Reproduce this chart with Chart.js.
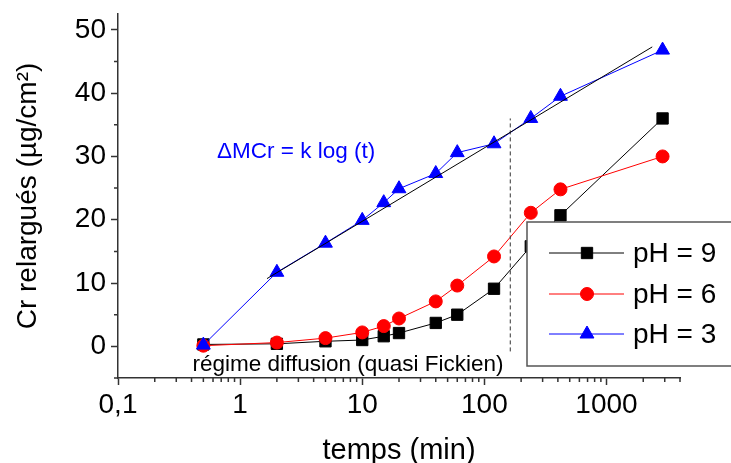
<!DOCTYPE html>
<html>
<head>
<meta charset="utf-8">
<script src="https://cdn.jsdelivr.net/npm/chart.js@4.4.0/dist/chart.umd.min.js"></script>
<style>
  html, body { margin: 0; padding: 0; background: #fff; }
  #wrap { width: 731px; height: 463px; }
</style>
</head>
<body>
<div id="wrap"><canvas id="chart" width="731" height="463"></canvas></div>
<script>
// ------------------------- Data -------------------------
const times = [0.5, 2, 5, 10, 15, 20, 40, 60, 120, 240, 420, 2880];
const ph9 = [0.3, 0.4, 0.8, 1.0, 1.6, 2.1, 3.7, 5.0, 9.1, 15.8, 20.7, 36.0];
const ph6 = [0.1, 0.6, 1.3, 2.2, 3.2, 4.4, 7.1, 9.6, 14.2, 21.1, 24.8, 30.0];
const ph3 = [0.2, 11.7, 16.3, 19.9, 22.7, 24.9, 27.3, 30.6, 32.0, 36.0, 39.5, 46.8];

const fitTimes = [1.66, 2370];
const fitValues = [10.7, 47.3];
const limitTimes = [163, 163];
const limitValues = [-0.8, 36];

const xTicks = [0.1, 1, 10, 100, 1000];
const xTickLabels = ['0,1', '1', '10', '100', '1000'];
const yTicks = [0, 10, 20, 30, 40, 50];
const yMinor = [-5, 5, 15, 25, 35, 45];
const xMinor = [];
[0.1, 1, 10, 100, 1000].forEach(d => {
  for (let k = 2; k <= 9; k++) if (d * k <= 4000) xMinor.push(d * k);
});

const FONT = "'Liberation Sans', Arial, sans-serif";
const AXIS = '#333';

function pts(xs, ys) {
  return xs.map((x, i) => ({ x: x, y: ys[i] }));
}

// ------------------------- Plugins -------------------------
const minorTicks = {
  id: 'minorTicks',
  afterDraw(chart) {
    const { ctx, scales: { x, y } } = chart;
    ctx.save();
    ctx.strokeStyle = AXIS;
    ctx.lineWidth = 1.5;
    ctx.beginPath();
    xMinor.forEach(v => {
      const px = x.getPixelForValue(v);
      ctx.moveTo(px, x.top);
      ctx.lineTo(px, x.top + 4);
    });
    yMinor.forEach(v => {
      const py = y.getPixelForValue(v);
      ctx.moveTo(y.right, py);
      ctx.lineTo(y.right - 4, py);
    });
    ctx.stroke();
    ctx.restore();
  }
};

const notes = {
  id: 'notes',
  afterDraw(chart) {
    const { ctx } = chart;
    ctx.save();
    ctx.textBaseline = 'alphabetic';
    ctx.fillStyle = '#0000ff';
    ctx.font = `22.5px ${FONT}`;
    ctx.textAlign = 'left';
    ctx.fillText('\u0394MCr = k log (t)', 217, 158);
    ctx.fillStyle = '#000';
    ctx.font = `22.5px ${FONT}`;
    ctx.textAlign = 'center';
    ctx.fillText('régime diffusion (quasi Fickien)', 348, 371);
    ctx.restore();
  }
};

const boxLegend = {
  id: 'boxLegend',
  afterDraw(chart) {
    const { ctx } = chart;
    ctx.save();
    ctx.fillStyle = '#fff';
    ctx.strokeStyle = '#555';
    ctx.lineWidth = 1.5;
    ctx.fillRect(527, 222, 220, 144);
    ctx.strokeRect(527, 222, 220, 144);
    const rows = [253, 294, 334];
    [0, 1, 2].forEach((di, i) => {
      const ds = chart.data.datasets[di];
      const yy = rows[i];
      ctx.strokeStyle = ds.borderColor;
      ctx.lineWidth = 1;
      ctx.beginPath();
      ctx.moveTo(549, yy);
      ctx.lineTo(624, yy);
      ctx.stroke();
      ctx.fillStyle = ds.backgroundColor;
      Chart.helpers.drawPoint(ctx, {
        pointStyle: ds.pointStyle, radius: ds.pointRadius, rotation: 0, borderWidth: 1
      }, 587, yy);
      ctx.fillStyle = '#000';
      ctx.font = `28px ${FONT}`;
      ctx.textAlign = 'left';
      ctx.textBaseline = 'middle';
      ctx.fillText(ds.label, 633, yy + 1);
    });
    ctx.restore();
  }
};

// ------------------------- Chart -------------------------
new Chart(document.getElementById('chart'), {
  type: 'line',
  data: {
    datasets: [
      {
        label: 'pH = 9', data: pts(times, ph9), order: 3,
        borderColor: '#000000', backgroundColor: '#000000', borderWidth: 1,
        pointStyle: 'rect', pointRadius: 8, pointBorderWidth: 1
      },
      {
        label: 'pH = 6', data: pts(times, ph6), order: 2,
        borderColor: '#ff0000', backgroundColor: '#ff0000', borderWidth: 1,
        pointStyle: 'circle', pointRadius: 6.5, pointBorderWidth: 1
      },
      {
        label: 'pH = 3', data: pts(times, ph3), order: 1,
        borderColor: '#0000ff', backgroundColor: '#0000ff', borderWidth: 1,
        pointStyle: 'triangle', pointRadius: 8, pointBorderWidth: 1
      },
      {
        label: 'fit', data: pts(fitTimes, fitValues), order: 0,
        borderColor: '#000000', borderWidth: 1, pointRadius: 0
      },
      {
        label: 'limit', data: pts(limitTimes, limitValues), order: 0,
        borderColor: '#333333', borderWidth: 1, borderDash: [4, 3], pointRadius: 0
      }
    ]
  },
  options: {
    responsive: false,
    animation: false,
    layout: { padding: { left: 0, top: 14, right: 51, bottom: 0 } },
    plugins: { legend: { display: false }, tooltip: { enabled: false } },
    scales: {
      x: {
        type: 'logarithmic', min: 0.1, max: 4000,
        afterBuildTicks: s => { s.ticks = xTicks.map(v => ({ value: v })); },
        afterFit: s => { s.height = 85; s.paddingLeft = 0; s.paddingRight = 0; },
        ticks: {
          autoSkip: false, maxRotation: 0, padding: 3, color: '#000',
          font: { family: FONT, size: 28 },
          callback: (v, i) => xTickLabels[i]
        },
        grid: { display: true, drawOnChartArea: false, tickLength: 7, tickWidth: 1.5, tickColor: AXIS },
        border: { display: true, color: AXIS, width: 1.5 },
        title: { display: true, text: 'temps (min)', color: '#000', font: { family: FONT, size: 29, lineHeight: 0.85 }, padding: 0 }
      },
      y: {
        min: -5, max: 52.5,
        afterBuildTicks: s => { s.ticks = yTicks.map(v => ({ value: v })); },
        afterFit: s => { s.width = 118; s.paddingTop = 0; s.paddingBottom = 0; },
        ticks: {
          padding: 5, color: '#000',
          font: { family: FONT, size: 28 }
        },
        grid: { display: true, drawOnChartArea: false, tickLength: 7, tickWidth: 1.5, tickColor: AXIS },
        border: { display: true, color: AXIS, width: 1.5 },
        title: { display: true, text: 'Cr relargués (µg/cm²)', color: '#000', font: { family: FONT, size: 28 }, padding: { top: 11, bottom: 0 } }
      }
    }
  },
  plugins: [minorTicks, notes, boxLegend]
});
</script>
</body>
</html>
